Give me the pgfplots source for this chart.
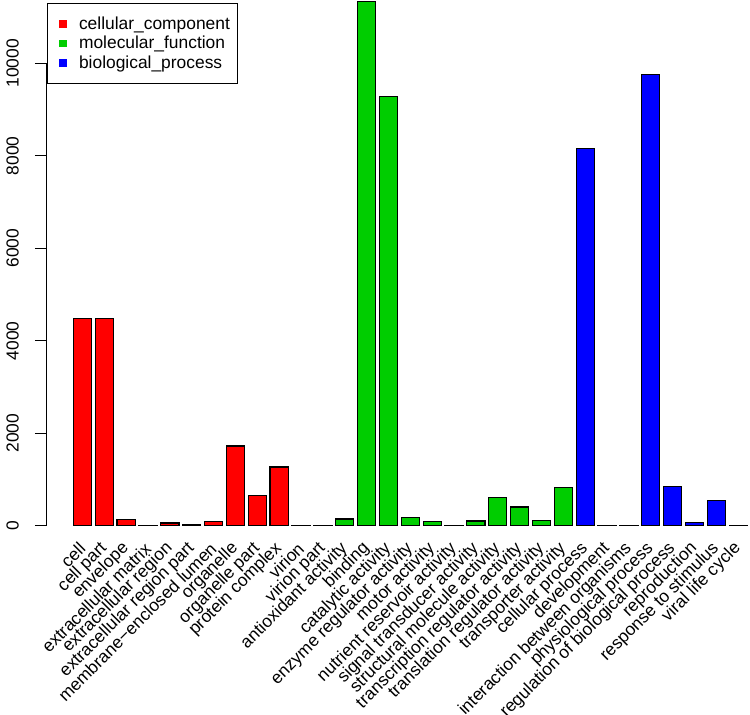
\documentclass[border=0pt]{standalone}
\usepackage{fontspec}
\setmainfont{Liberation Sans}
\usepackage{pgfplots}
\pgfplotsset{compat=1.18}
\definecolor{cc}{RGB}{255,0,0}
\definecolor{mf}{RGB}{0,205,0}
\definecolor{bp}{RGB}{0,0,255}
\newcommand{\rfont}{\fontsize{17.4bp}{20bp}\selectfont}
\pgfplotsset{
  sqleg/.style={legend image code/.code={\path (0bp,0bp); \fill[##1,draw=none] (3.3bp,-3.7bp) rectangle (10.7bp,3.7bp);}},
  barsty/.style={fill=#1, draw=black, line width=1.1bp, bar width=1, bar shift=0pt, sqleg},
}
\begin{document}
\begin{tikzpicture}
\begin{axis}[
  at={(0,0)}, anchor=south west,
  scale only axis, width=703bp, height=525.7bp,
  xmin=-1.244, xmax=37.347, ymin=0, ymax=11366,
  clip=false,
  axis line style={draw=none},
  ybar,
  xtick={0.7,1.9,3.1,4.3,5.5,6.7,7.9,9.1,10.3,11.5,12.7,13.9,15.1,16.3,17.5,18.7,19.9,21.1,22.3,23.5,24.7,25.9,27.1,28.3,29.5,30.7,31.9,33.1,34.3,35.5,36.7},
  xticklabels={cell,cell part,envelope,extracellular matrix,extracellular region,extracellular region part,membrane−enclosed lumen,organelle,organelle part,protein complex,virion,virion part,antioxidant activity,binding,catalytic activity,enzyme regulator activity,motor activity,nutrient reservoir activity,signal transducer activity,structural molecule activity,transcription regulator activity,translation regulator activity,transporter activity,cellular process,development,interaction between organisms,physiological process,regulation of biological process,reproduction,response to stimulus,viral life cycle},
  major x tick style={draw=none},
  ytick={0,2000,4000,6000,8000,10000},
  tick align=outside, major tick length=12bp,
  major y tick style={line width=1bp, black},
  scaled y ticks=false,
  /pgf/number format/assume math mode=true,
  /pgf/number format/1000 sep={},
  ticklabel style={font=\rfont},
  yticklabel style={xshift=-16bp, rotate=90, anchor=south, inner sep=0pt},
  xticklabel style={xshift=0bp, yshift=-8bp, rotate=45, anchor=east, inner sep=0pt},
  legend style={at={(0,0.9943)}, anchor=north west, draw=black, line width=1bp,
    inner xsep=8bp, inner ysep=12.25bp, row sep=3bp, column sep=12.3bp, font=\rfont,
    nodes={inner sep=0pt, text height=13.5bp, text depth=3bp}, cells={anchor=west}},
  legend cell align=left,
]
\addplot[barsty=cc] coordinates {(0.7,4480) (1.9,4480) (3.1,130) (4.3,8) (5.5,58) (6.7,20) (7.9,94) (9.1,1723) (10.3,649) (11.5,1269) (12.7,3) (13.9,3)};
\addplot[barsty=mf] coordinates {(15.1,145) (16.3,11330) (17.5,9284) (18.7,173) (19.9,95) (21.1,10) (22.3,101) (23.5,613) (24.7,404) (25.9,108) (27.1,822)};
\addplot[barsty=bp] coordinates {(28.3,8151) (29.5,10) (30.7,5) (31.9,9760) (33.1,843) (34.3,75) (35.5,541) (36.7,3)};
\legend{cellular\_component,molecular\_function,biological\_process}
\draw[line width=1bp, black] (axis cs:-1.244,0) -- (axis cs:-1.244,10000);
\end{axis}
\pgfresetboundingbox
\path[use as bounding box] (-47bp,-189.3bp) rectangle (703bp,525.7bp);
\end{tikzpicture}
\end{document}
